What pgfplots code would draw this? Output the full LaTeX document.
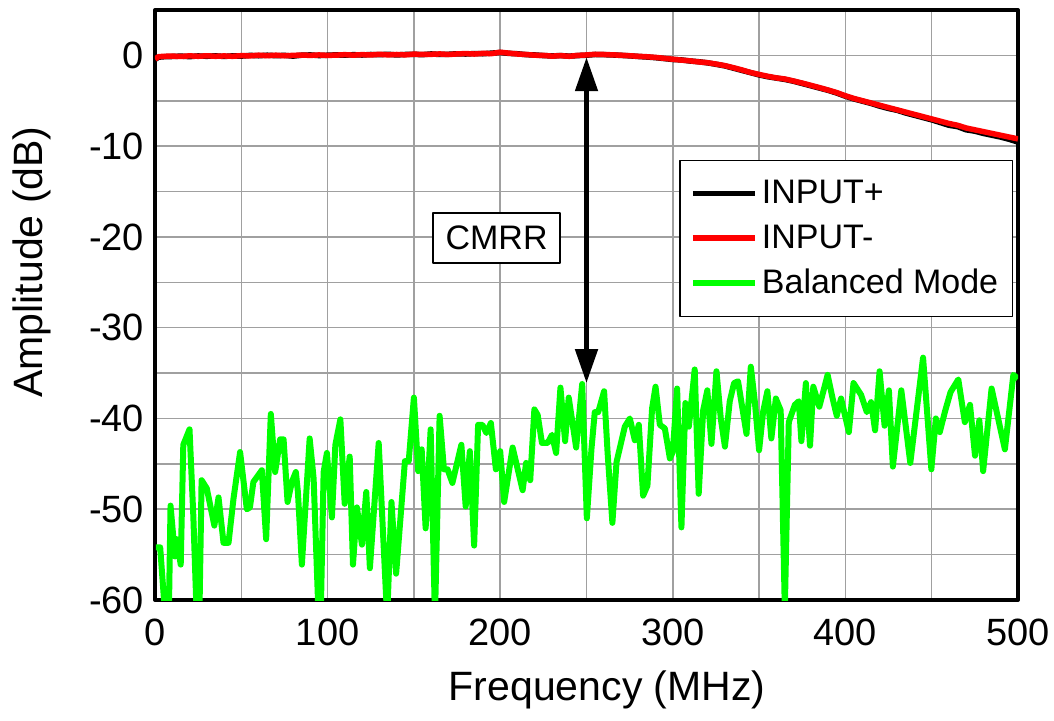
\documentclass[border=0pt]{standalone}
\usepackage{fontspec}
\setmainfont{Liberation Sans}
\usepackage{pgfplots}
\pgfplotsset{compat=1.18}
\usetikzlibrary{arrows.meta}
\definecolor{gridgray}{RGB}{160,160,160}
\definecolor{pureGreen}{RGB}{0,255,0}
\definecolor{pureRed}{RGB}{255,0,0}
\begin{document}
\begin{tikzpicture}
\begin{axis}[
  at={(0,0)}, anchor=south west,
  scale only axis, width=431.5pt, height=295pt,
  xmin=0, xmax=500, ymin=-60, ymax=5,
  xtick={0,100,...,500},
  ytick={-60,-50,-40,-30,-20,-10,0},
  yticklabels={-60,-50,-40,-30,-20,-10,0},
  xticklabels={0,100,200,300,400,500},
  minor xtick={50,150,250,350,450},
  minor ytick={-55,-45,-35,-25,-15,-5},
  grid=both,
  major grid style={draw=gridgray, line width=0.75pt},
  minor grid style={draw=gridgray, line width=0.75pt},
  major tick length=0pt, minor tick length=0pt,
  axis line style={line width=2pt, black},
  ticklabel style={font=\fontsize{19}{22}\selectfont},
  xticklabel style={yshift=-6pt},
  yticklabel style={xshift=-2pt},
  xlabel={Frequency (MHz)},
  ylabel={Amplitude (dB)},
  label style={font=\fontsize{20.5}{24}\selectfont},
  xlabel style={at={(axis description cs:0.524,-0.1525)}, anchor=center},
  ylabel style={at={(axis description cs:-0.1425,0.573)}, anchor=center},
  legend style={at={(axis description cs:0.994,0.746)}, anchor=north east,
    draw=black, line width=0.6pt, fill=white,
    font=\fontsize{17}{20}\selectfont, row sep=5pt,
    inner xsep=5pt, inner ysep=8pt,
    /tikz/every even column/.append style={column sep=6pt}},
  legend cell align=left,
  legend image code/.code={\draw[#1] (0pt,0pt) -- (31pt,0pt);},
  line join=round,
]
\addplot[black, line width=2.75pt] coordinates {
(0,-0.45) (2,-0.2) (5,-0.15) (10,-0.12) (15,-0.08) (20,-0.14) (25,-0.06) (30,-0.1) (35,-0.05) (40,-0.12)
(45,-0.05) (50,-0.08) (55,0.0) (60,-0.04) (65,0.02) (70,-0.03) (75,0.0) (80,-0.08) (85,0.02) (90,0.05)
(95,-0.02) (100,0.02) (105,0.06) (110,0.02) (115,0.08) (120,0.04) (125,0.1) (130,0.08) (135,0.12) (140,0.05)
(145,0.1) (150,0.12) (155,0.08) (160,0.16) (165,0.1) (170,0.12) (175,0.18) (180,0.15) (185,0.2) (190,0.18)
(195,0.25) (200,0.32) (205,0.22) (210,0.18) (215,0.08) (220,0.05) (225,-0.02) (230,-0.06) (235,-0.02) (240,-0.08)
(245,-0.02) (250,0.02) (255,0.1) (260,0.08) (265,0.05) (270,0.0) (275,-0.05) (280,-0.12) (285,-0.18) (290,-0.25)
(295,-0.35) (300,-0.45) (305,-0.5) (310,-0.62) (315,-0.7) (320,-0.82) (325,-0.98) (330,-1.15) (335,-1.4) (340,-1.65)
(345,-1.9) (350,-2.15) (355,-2.35) (360,-2.5) (365,-2.65) (370,-2.85) (375,-3.1) (380,-3.35) (385,-3.6) (390,-3.85)
(395,-4.15) (400,-4.5) (405,-4.8) (410,-5.05) (415,-5.3) (420,-5.6) (425,-5.85) (430,-6.05) (435,-6.35) (440,-6.6)
(445,-6.85) (450,-7.1) (455,-7.4) (460,-7.7) (465,-7.85) (470,-8.2) (475,-8.35) (480,-8.6) (485,-8.8) (490,-9.0)
(495,-9.25) (500,-9.55)
};
\addlegendentry{INPUT+}
\addplot[pureRed, line width=2.75pt] coordinates {
(0,-0.4) (2,-0.15) (5,-0.1) (10,-0.08) (15,-0.12) (20,-0.05) (25,-0.1) (30,-0.04) (35,-0.1) (40,-0.06)
(45,-0.1) (50,-0.03) (55,-0.05) (60,0.02) (65,-0.03) (70,0.02) (75,-0.04) (80,0.0) (85,0.04) (90,0.0)
(95,0.05) (100,0.0) (105,0.03) (110,0.08) (115,0.03) (120,0.08) (125,0.05) (130,0.12) (135,0.06) (140,0.1)
(145,0.06) (150,0.14) (155,0.1) (160,0.12) (165,0.16) (170,0.1) (175,0.16) (180,0.2) (185,0.15) (190,0.22)
(195,0.2) (200,0.35) (205,0.25) (210,0.15) (215,0.1) (220,0.02) (225,0.0) (230,-0.08) (235,-0.03) (240,-0.1)
(245,0.0) (250,0.05) (255,0.12) (260,0.1) (265,0.06) (270,0.02) (275,-0.04) (280,-0.1) (285,-0.15) (290,-0.22)
(295,-0.32) (300,-0.42) (305,-0.52) (310,-0.6) (315,-0.72) (320,-0.8) (325,-0.95) (330,-1.12) (335,-1.35) (340,-1.6)
(345,-1.88) (350,-2.1) (355,-2.3) (360,-2.48) (365,-2.6) (370,-2.82) (375,-3.05) (380,-3.3) (385,-3.55) (390,-3.82)
(395,-4.1) (400,-4.45) (405,-4.75) (410,-5.0) (415,-5.25) (420,-5.5) (425,-5.75) (430,-6.0) (435,-6.25) (440,-6.5)
(445,-6.75) (450,-7.0) (455,-7.25) (460,-7.5) (465,-7.7) (470,-8.0) (475,-8.2) (480,-8.4) (485,-8.6) (490,-8.8)
(495,-9.0) (500,-9.2)
};
\addlegendentry{INPUT-}
\addplot[pureGreen, line width=3pt] coordinates {
(0.5,-54.2) (3,-54.2) (6,-62) (8,-62) (9,-49.6) (11.6,-55.2) (12.6,-53.3) (14.9,-56.1) (16.4,-42.9) (20,-41.2)
(22.2,-50.7) (24.2,-62) (25.7,-62) (27,-46.8) (30,-47.7) (34.4,-51.8) (36.8,-48.7) (39.7,-53.7) (42.6,-53.7) (45.5,-48.8)
(49.3,-43.7) (53.2,-50) (55,-49.8) (57,-47) (61.9,-45.7) (64.4,-53.3) (67.1,-39.5) (69.6,-45.9) (72.5,-42.3) (74.5,-42.3)
(76.8,-49.2) (79.3,-47) (81.6,-45.9) (82.8,-48.1) (85.1,-56.1) (89.6,-42.2) (91.9,-46.6) (94.8,-62) (96,-62) (97.7,-45.9)
(99.6,-43.8) (102.5,-50.9) (104.5,-42.9) (107.4,-40.1) (109.9,-49.4) (112.8,-44.2) (114.7,-56.1) (117,-49.8) (119.9,-53.9) (122.4,-48.1)
(124.5,-56.5) (129.6,-42.7) (134.5,-62) (137,-49.2) (139.7,-57.1) (144.8,-44.7) (147,-44.7) (150,-37.7) (152.5,-45.8) (154.5,-43.4)
(156.8,-52.1) (159.7,-41.2) (162.2,-62) (164.9,-39.7) (167.4,-45.6) (169.5,-45.6) (172.3,-47.1) (177.5,-42.9) (180,-49.7) (182.4,-43.6)
(184.9,-54) (187.2,-40.7) (189.7,-40.7) (192,-41.6) (194.6,-40.5) (197.5,-45.6) (200,-43.6) (202.3,-49.2) (207.2,-43.2) (213,-47.9)
(215,-44.9) (217.4,-46.8) (219.8,-39) (221.7,-39.6) (224.2,-42.7) (227.5,-42.7) (230,-41.8) (232.4,-43.8) (234.9,-36.6) (237.6,-42.5)
(239.7,-37.7) (244,-43.2) (247.5,-36.2) (250.2,-51) (252.9,-43.3) (254.8,-39.3) (256.8,-39.3) (260.2,-37) (262.2,-43.7) (265,-51.5)
(267.4,-44.8) (272.2,-40.9) (275.1,-40) (278,-42.4) (280.3,-40.7) (282.8,-48.5) (285.3,-47.4) (288,-38.9) (290,-36.5) (292.5,-40.7)
(295.4,-41.1) (298.3,-44.4) (300,-43.7) (302.5,-36.7) (305,-52) (307.3,-38.3) (309.3,-40.9) (312.7,-34.6) (315,-48.3) (317.6,-39.1)
(320,-36.9) (322.4,-42.8) (325.3,-34.8) (327.8,-40) (330.2,-43.1) (333,-38.1) (335.5,-36.1) (337.8,-35.9) (342.7,-41.7) (345.2,-34.3)
(347.5,-38.1) (350,-43.5) (352.3,-39.3) (354.8,-37) (357.1,-42.2) (359.7,-37.8) (362.5,-39.1) (364.9,-61) (367.2,-40.4) (370.7,-38.5)
(373,-38.1) (374.5,-42.5) (377.1,-36.1) (379.5,-43) (381.4,-36.5) (384.9,-38.7) (389.7,-35.2) (392.6,-37.8) (395,-39.7) (397.5,-37.8)
(402,-41.5) (404.7,-36.1) (409.1,-37.4) (412.4,-39.3) (414.9,-38.2) (417.2,-41.3) (419.8,-34.8) (422.7,-40.8) (425.2,-36.9) (427.5,-45.3)
(432.4,-36.9) (437.6,-44.9) (445,-33.3) (449.8,-45.6) (452.4,-40) (454.7,-41.5) (457.6,-39.3) (460.9,-37.1) (465.4,-35.7) (469.2,-40.4)
(472.2,-38.5) (475.1,-44.1) (477.6,-40.2) (479.8,-45.8) (484.7,-36.7) (492.4,-43.4) (497.3,-35.2) (500,-35.6)
};
\addlegendentry{Balanced Mode}
\draw[line width=2.5pt, {Triangle[length=17pt,width=11pt]}-{Triangle[length=17pt,width=11pt]}]
  (axis cs:250,-0.2) -- (axis cs:250,-36.1);
\node[draw=black, line width=0.75pt, fill=white, minimum width=63.5pt, minimum height=25pt, inner sep=0pt,
  font=\fontsize{17}{20}\selectfont] at (axis cs:197.9,-20.1) {CMRR};
\end{axis}
\pgfresetboundingbox
\path (-77.5pt,-60pt) rectangle (449.5pt,300pt);
\end{tikzpicture}
\end{document}
